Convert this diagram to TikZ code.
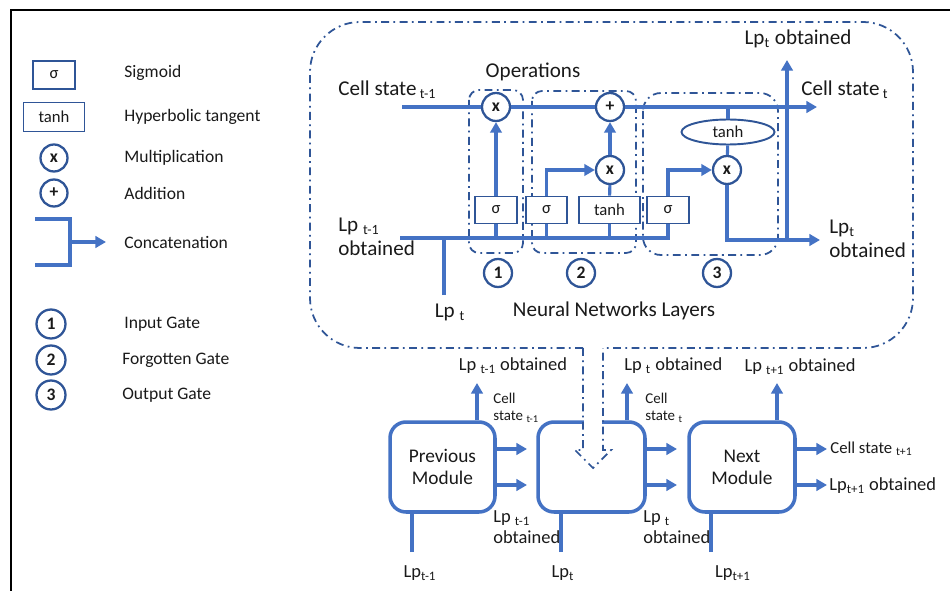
\documentclass[tikz,border=0pt]{standalone}
\usepackage{fontspec}
\setmainfont{Carlito}
\usetikzlibrary{arrows.meta,shapes.geometric}
\definecolor{lblue}{HTML}{4472C4}
\definecolor{dblue}{HTML}{2F5597}
\definecolor{ink}{HTML}{1A1A1A}
\newcommand{\fs}[1]{\fontsize{#1}{\fpeval{#1*1.15}}\selectfont}
\tikzset{
  wire/.style={draw=lblue, line width=1.75pt},
  arr/.style={wire, -{Triangle[length=6pt,width=6.5pt]}},
  opc/.style={circle, draw=dblue, line width=1.3pt, fill=white, minimum size=0.56cm,
    inner sep=0pt, font=\fs{10}\bfseries, text=ink},
  actbox/.style={rectangle, draw=dblue, line width=1.1pt, fill=white, inner sep=0pt,
    minimum width=0.84cm, minimum height=0.54cm, font=\fs{9.5}, text=ink},
  widebox/.style={actbox, minimum width=1.22cm},
  dashdot/.style={draw=dblue, line width=1pt, dash pattern=on 4.5pt off 2.5pt on 1pt off 2.5pt},
  module/.style={draw=lblue, line width=2pt, rounded corners=0.32cm, fill=white,
    minimum height=1.8cm, align=center, font=\fs{11}, text=ink},
  legtxt/.style={anchor=west, inner sep=0pt, font=\fs{10}, text=ink},
  bigtxt/.style={inner sep=0pt, font=\fs{12}, text=ink},
  midtxt/.style={inner sep=0pt, font=\fs{10.5}, text=ink},
  smalltxt/.style={inner sep=0pt, font=\fs{8.5}, text=ink},
}
\begin{document}
\begin{tikzpicture}[x=0.02cm, y=-0.02cm]
\useasboundingbox (0,0) rectangle (950,591);
\fill[white] (0,0) rectangle (950,591);

% page frame
\draw[black, line width=1.1pt] (950,10) -- (11,10) -- (11,591);

% ---------- legend ----------
\node[actbox, minimum height=0.56cm] (lgsig) at (54,75) {σ};
\node[widebox, minimum height=0.58cm] (lgtanh) at (54,117) {tanh};
\node[opc, minimum size=0.54cm] (lgmul) at (54,158) {x};
\node[opc, minimum size=0.54cm] (lgadd) at (54,193) {+};
\coordinate (cca) at (35,219);
\coordinate (ccb) at (35,265);
\coordinate (ccm) at (70,242);
\coordinate (cce) at (106,242);
\draw[wire, line width=1.9pt] (cca) -| (ccm |- ccb) -- (ccb);
\draw[arr] (ccm) -- (cce);
\node[legtxt] (lsig) at (124,73) {Sigmoid};
\node[legtxt] (ltanh) at (124,117) {Hyperbolic tangent};
\node[legtxt] (lmul) at (124,158) {Multiplication};
\node[legtxt] (ladd) at (124,193) {Addition};
\node[legtxt] (lcat) at (124,242) {Concatenation};

\node[opc, minimum size=0.58cm] (lg1) at (51,324) {1};
\node[opc, minimum size=0.58cm] (lg2) at (51,360) {2};
\node[opc, minimum size=0.58cm] (lg3) at (51,395) {3};
\node[legtxt] (lin) at (124,324) {Input Gate};
\node[legtxt] (lfg) at (122,360) {Forgotten Gate};
\node[legtxt] (lout) at (122,395) {Output Gate};

% ---------- bottom chain of modules ----------
\node[module, minimum width=2.1cm] (prev) at (442.5,467) {Previous\\Module};
\node[module, minimum width=2.14cm] (cur) at (591.5,467) {};
\node[module, minimum width=2.12cm] (next) at (742,467) {Next\\Module};

% previous module
\coordinate (pup) at (477,383);
\coordinate (pcs) at (527,449);
\coordinate (plp) at (527,485);
\coordinate (pin) at (412,552);
\draw[arr] (prev.north -| pup) -- (pup);
\draw[arr] (prev.east |- pcs) -- (pcs);
\draw[arr] (prev.east |- plp) -- (plp);
\draw[wire] (pin) -- (pin |- prev.south);
\node[midtxt] (pupl) at (513,366) {Lp \textsubscript{t-1} obtained};
\node[smalltxt, align=left, anchor=west] (pcsl) at (493,408) {Cell\\state \textsubscript{t-1}};
\node[midtxt, align=left, anchor=west] (plpl) at (493,527) {Lp \textsubscript{t-1}\\obtained};
\node[midtxt] (pinl) at (420,573) {Lp\textsubscript{t-1}};

% current module
\coordinate (cup) at (627,383);
\coordinate (ccs) at (677,449);
\coordinate (clp) at (677,485);
\coordinate (cin) at (561,552);
\draw[arr] (cur.north -| cup) -- (cup);
\draw[arr] (cur.east |- ccs) -- (ccs);
\draw[arr] (cur.east |- clp) -- (clp);
\draw[wire] (cin) -- (cin |- cur.south);
\node[midtxt, anchor=west] (cupl) at (624,366) {Lp \textsubscript{t} obtained};
\node[smalltxt, align=left, anchor=west] (ccsl) at (645,408) {Cell\\state \textsubscript{t}};
\node[midtxt, align=left, anchor=west] (clpl) at (643,527) {Lp \textsubscript{t}\\obtained};
\node[midtxt] (cinl) at (563,573) {Lp\textsubscript{t}};

% next module
\coordinate (nup) at (777,383);
\coordinate (ncs) at (827,449);
\coordinate (nlp) at (827,485);
\coordinate (nin) at (711,552);
\draw[arr] (next.north -| nup) -- (nup);
\draw[arr] (next.east |- ncs) -- (ncs);
\draw[arr] (next.east |- nlp) -- (nlp);
\draw[wire] (nin) -- (nin |- next.south);
\node[midtxt] (nupl) at (800,367) {Lp \textsubscript{t+1} obtained};
\node[smalltxt, font=\fs{9.5}, anchor=west] (ncsl) at (830,449) {Cell state \textsubscript{t+1}};
\node[midtxt, anchor=west] (nlpl) at (829,486) {Lp\textsubscript{t+1} obtained};
\node[midtxt] (ninl) at (733,573) {Lp\textsubscript{t+1}};

% ---------- LSTM module outline, opening down into the current module ----------
\fill[white] (584,417) rectangle (602,427);
\draw[dashdot, rounded corners=1cm] (583,348) -- (310,348) -- (310,22) -- (913,22) -- (913,348) -- (603,348);
\draw[dashdot] (583,348) -- (583,450) -- (575,450) -- (593,468) -- (611,450) -- (603,450) -- (603,348);

% gate groups
\draw[dashdot, rounded corners=0.2cm] (469,90) rectangle (523,253);
\draw[dashdot, rounded corners=0.2cm] (532,91) rectangle (636,253);
\draw[dashdot, rounded corners=0.36cm] (643,93) rectangle (778,255);

% ---------- LSTM internals ----------
\coordinate (csin) at (402,107);
\coordinate (csout) at (817,107);
\coordinate (lpin) at (400,238);
\coordinate (lpend) at (668,238);
\coordinate (lptin) at (444,295);
\coordinate (lpout) at (820,240);
\coordinate (upbase) at (787,240);
\coordinate (uptip) at (787,60);

\node[opc] (m1) at (496,107) {x};
\node[opc] (add) at (610,107) {+};
\node[opc] (m2) at (610,170) {x};
\node[opc] (m3) at (727,170) {x};
\node[actbox] (s1) at (496,210) {σ};
\node[actbox, minimum width=0.82cm] (s2) at (546.5,210) {σ};
\node[widebox] (th1) at (609.5,210) {tanh};
\node[actbox] (s3) at (668,210) {σ};
\node[ellipse, draw=dblue, line width=1.1pt, fill=white, inner sep=0pt,
  minimum width=1.86cm, minimum height=0.5cm, font=\fs{9.5}, text=ink] (th2) at (728,132) {tanh};

% cell state path
\draw[wire] (csin) -- (m1);
\draw[wire] (m1) -- (add);
\draw[arr] (add) -- (csout);

% concatenated input bus
\draw[wire] (lpin) -- (lpend) -- (s3.south);
\draw[wire] (lptin) -- (lptin |- lpin);
\draw[wire] (s1.south) -- (s1.south |- lpin);
\draw[wire] (s2.south) -- (s2.south |- lpin);
\draw[wire] (th1.south) -- (th1.south |- lpin);

% gate 1
\draw[arr] (s1) -- (m1);
% gate 2
\draw[arr] (s2.north) |- (m2.west);
\draw[wire] (th1) -- (m2);
\draw[arr] (m2) -- (add);
% gate 3
\draw[arr] (s3.north) |- (m3.west);
\draw[wire] (th2.north) -- (th2.north |- csin);
\draw[wire] (th2) -- (m3);
\draw[arr] (m3.south) |- (lpout);
\draw[arr] (upbase) -- (uptip);

\node[opc] (g1) at (498,273) {1};
\node[opc] (g2) at (581,273) {2};
\node[opc] (g3) at (717,273) {3};

% labels
\node[bigtxt, anchor=west] (csinl) at (338,90) {Cell state\textsubscript{ t-1}};
\node[bigtxt, anchor=west, align=left] (lpinl) at (338,237) {Lp \textsubscript{t-1}\\obtained};
\node[bigtxt] (opl) at (533,72) {Operations};
\node[bigtxt] (nnl) at (614,311) {Neural Networks Layers};
\node[bigtxt] (lptl) at (450,312) {Lp \textsubscript{t}};
\node[bigtxt] (uptl) at (798,39) {Lp\textsubscript{t} obtained};
\node[bigtxt, anchor=west] (csoutl) at (801,90) {Cell state\textsubscript{ t}};
\node[bigtxt, anchor=west, align=left] (lpoutl) at (829,239) {Lp\textsubscript{t}\\obtained};
\end{tikzpicture}
\end{document}
